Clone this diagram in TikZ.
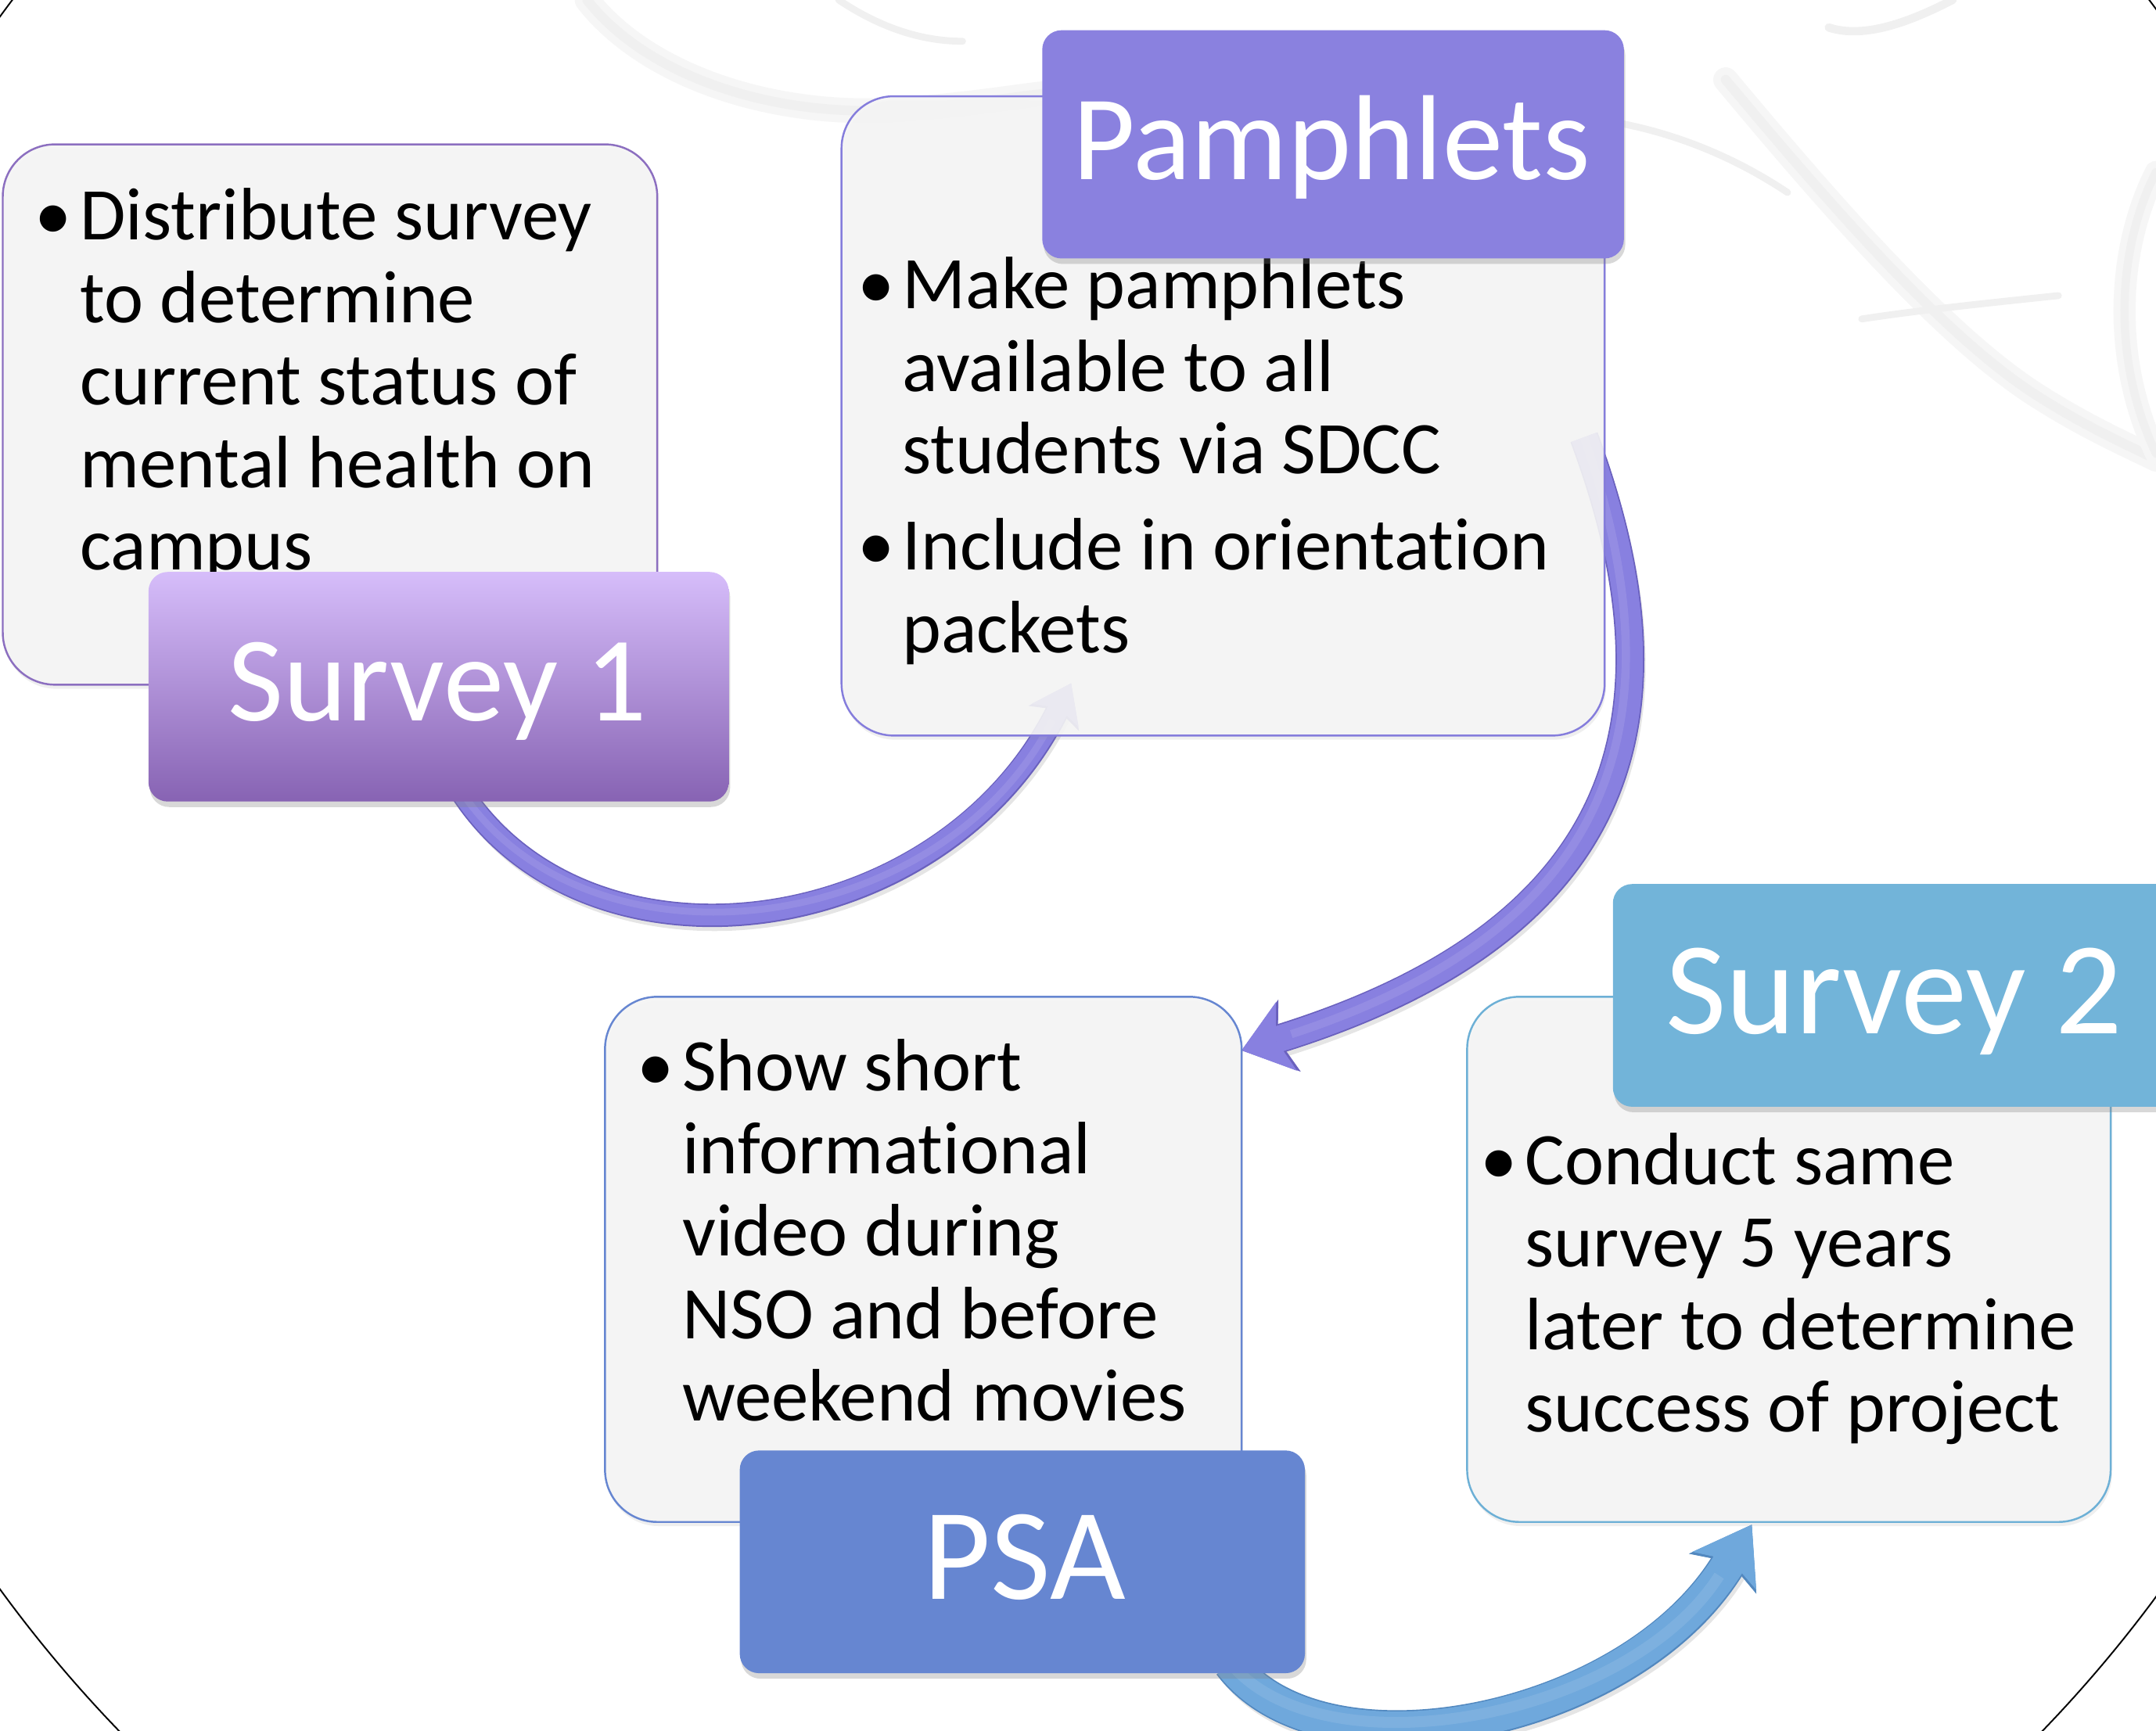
\documentclass[tikz,border=0pt]{standalone}
\usepackage{fontspec}
\setmainfont{Carlito}[Ligatures={NoCommon,NoRequired,NoContextual,NoRare}]
\usetikzlibrary{arrows.meta,shadows,calc}
\definecolor{boxfill}{HTML}{F5F5F5}
\definecolor{sOneTop}{HTML}{D6BDFA}
\definecolor{sOneBot}{HTML}{8763B3}
\definecolor{sOneLine}{HTML}{8C6FC0}
\definecolor{pamC}{HTML}{8A81DF}
\definecolor{pamLine}{HTML}{857DDC}
\definecolor{psaC}{HTML}{6686D1}
\definecolor{sTwoC}{HTML}{72B4D9}
\definecolor{sTwoLine}{HTML}{6DB0D6}
\definecolor{arrP}{HTML}{8880E0}
\definecolor{arrPdark}{HTML}{6A61BE}
\definecolor{arrB}{HTML}{6FA8DC}
\definecolor{arrBdark}{HTML}{5288BF}
\definecolor{bgGray}{HTML}{F0F0F0}
\definecolor{bgGrayB}{HTML}{F6F6F6}
\begin{document}
\begin{tikzpicture}[x=1pt,y=-1pt,
  tbox/.style={draw=#1, line width=1.4pt, fill=boxfill, fill opacity=0.9, draw opacity=1,
    rounded corners=38pt, inner sep=0pt,
    drop shadow={shadow xshift=1pt, shadow yshift=-3pt, opacity=0.12}},
  lbox/.style={fill=#1, rounded corners=14pt, inner sep=0pt,
    drop shadow={shadow xshift=1pt, shadow yshift=-4pt, opacity=0.3}},
  btxt/.style={anchor=base west, inner sep=0pt, text=black, font=\fontsize{54}{60}\selectfont},
  bul/.style={anchor=base, inner sep=0pt, text=black, font=\fontsize{54}{60}\selectfont},
  ltxt/.style={anchor=base, inner sep=0pt, text=white, font=\fontsize{#1}{#1}\selectfont},
  bgline/.style={draw=bgGray, line width=#1, line cap=round},
  bgsoft/.style={draw=bgGrayB, line width=#1, line cap=round}
]
\useasboundingbox (0,0) rectangle (1568,1259);
\begin{scope}
\clip (0,0) rectangle (1568,1259);
\fill[white] (0,0) rectangle (1568,1259);
% faint background picture
\draw[bgsoft=18pt] (427,0) .. controls (470,55) and (560,85) .. (650,80) .. controls (700,77) and (740,70) .. (760,68);
\draw[bgline=7pt] (427,0) .. controls (470,55) and (560,85) .. (650,80) .. controls (700,77) and (740,70) .. (760,68);
\draw[bgline=5pt] (610,0) .. controls (640,20) and (670,30) .. (700,30);
\draw[bgsoft=18pt] (1255,58) .. controls (1340,160) and (1420,250) .. (1485,290) .. controls (1520,312) and (1550,325) .. (1568,334);
\draw[bgline=7pt] (1255,58) .. controls (1340,160) and (1420,250) .. (1485,290) .. controls (1520,312) and (1550,325) .. (1568,334);
\draw[bgline=6pt] (1330,20) .. controls (1360,30) and (1400,10) .. (1420,0);
\draw[bgline=5pt] (1354,232) .. controls (1400,225) and (1450,220) .. (1497,215);
\draw[bgsoft=16pt] (1568,125) .. controls (1540,180) and (1535,260) .. (1568,330);
\draw[bgline=6pt] (1568,125) .. controls (1540,180) and (1535,260) .. (1568,330);
\draw[bgline=5pt] (1180,90) .. controls (1230,100) and (1270,120) .. (1300,140);
% big outline
\draw[black, line width=1.1pt] (786,584) circle[radius=972];
% arrow coordinates
\coordinate (a1s) at (335,575);
\coordinate (a1e) at (779,497);
\coordinate (a2s) at (1152,318);
\coordinate (a2e) at (903,764);
\coordinate (a3s) at (895,1210);
\coordinate (a3e) at (1274,1109);
% arrow 1
\draw[line width=15pt, draw=black, draw opacity=0.10, shorten >=20pt] ($(a1s)+(2,4)$) .. controls (430,723) and (687,690) .. ($(a1e)+(2,4)$);
\draw[line width=17pt, draw=arrPdark, -{Stealth[length=28.5pt,width=41pt,inset=7pt,line width=0.5pt]}] (a1s) .. controls (428,719) and (685,686) .. (a1e);
\draw[line width=15pt, draw=arrP, -{Stealth[length=26pt,width=38pt,inset=6pt,line width=0.5pt]}] (a1s) .. controls (428,719) and (685,686) .. (a1e);
\draw[line width=5pt, draw=white, draw opacity=0.10, shorten >=30pt] (a1s) .. controls (428,715) and (685,682) .. (a1e);
% arrow 2
\draw[line width=19pt, draw=black, draw opacity=0.10, shorten >=25pt] ($(a2s)+(2,4)$) .. controls (1234.5,538) and (1173,685) .. ($(a2e)+(2,4)$);
\draw[line width=21pt, draw=arrPdark, -{Stealth[length=36.5pt,width=55pt,inset=9pt,line width=0.5pt]}] (a2s) .. controls (1232.5,534) and (1171,681) .. (a2e);
\draw[line width=19pt, draw=arrP, -{Stealth[length=34pt,width=52pt,inset=8pt,line width=0.5pt]}] (a2s) .. controls (1232.5,534) and (1171,681) .. (a2e);
\draw[line width=6pt, draw=white, draw opacity=0.10, shorten >=38pt] (a2s) .. controls (1227,534) and (1166,678) .. (a2e);
% arrow 3
\draw[line width=24pt, draw=black, draw opacity=0.10, shorten >=30pt] ($(a3s)+(2,4)$) .. controls (963,1302) and (1188.6,1260) .. ($(a3e)+(2,4)$);
\draw[line width=26pt, draw=arrBdark, -{Stealth[length=41.5pt,width=57pt,inset=10pt,line width=0.5pt]}] (a3s) .. controls (961,1298) and (1186.6,1256) .. (a3e);
\draw[line width=24pt, draw=arrB, -{Stealth[length=39pt,width=54pt,inset=9pt,line width=0.5pt]}] (a3s) .. controls (961,1298) and (1186.6,1256) .. (a3e);
\draw[line width=8pt, draw=white, draw opacity=0.10, shorten >=44pt] (a3s) .. controls (963,1291) and (1184,1250) .. (a3e);
% text boxes
\node[tbox=sOneLine, minimum width=476pt, minimum height=393pt] (t1) at (240,301.5) {};
\node[tbox=pamLine, minimum width=555pt, minimum height=465pt] (t2) at (889.5,302.5) {};
\node[tbox=psaC, minimum width=463pt, minimum height=382pt] (t3) at (671.5,916) {};
\node[tbox=sTwoLine, minimum width=468pt, minimum height=382pt] (t4) at (1301,916) {};
% text of box 1
\node[bul] (t1b) at (39,174.5) {•};
\node[btxt] (t1l1) at (58,174.5) {Distribute survey};
\node[btxt] (t1l2) at (58,234.5) {to determine};
\node[btxt] (t1l3) at (58,294.5) {current status of};
\node[btxt] (t1l4) at (58,354.5) {mental health on};
\node[btxt] (t1l5) at (58,414.5) {campus};
% text of box 2
\node[bul] (t2b1) at (637,224.5) {•};
\node[btxt] (t2l1) at (656,224.5) {Make pamphlets};
\node[btxt] (t2l2) at (656,284.5) {available to all};
\node[btxt] (t2l3) at (656,344.5) {students via SDCC};
\node[bul] (t2b2) at (637,414.5) {•};
\node[btxt] (t2l4) at (656,414.5) {Include in orientat\kern0pt ion};
\node[btxt] (t2l5) at (656,474.5) {packets};
% text of box 3
\node[bul] (t3b) at (477,793.5) {•};
\node[btxt] (t3l1) at (496,793.5) {Show short};
\node[btxt] (t3l2) at (496,853.5) {informat\kern0pt ional};
\node[btxt] (t3l3) at (496,913.5) {video during};
\node[btxt] (t3l4) at (496,973.5) {NSO and before};
\node[btxt] (t3l5) at (496,1033.5) {weekend movies};
% text of box 4
\node[bul] (t4b) at (1090,861.5) {•};
\node[btxt] (t4l1) at (1109,861.5) {Conduct same};
\node[btxt] (t4l2) at (1109,921.5) {survey 5 years};
\node[btxt] (t4l3) at (1109,981.5) {later to determine};
\node[btxt] (t4l4) at (1109,1041.5) {success of project};
% labels
\node[rounded corners=14pt, inner sep=0pt, top color=sOneTop, bottom color=sOneBot,
  drop shadow={shadow xshift=1pt, shadow yshift=-4pt, opacity=0.3},
  minimum width=422pt, minimum height=167pt] (l1) at (319,499.5) {};
\node[ltxt=88] (l1t) at (318,524) {Survey 1};
\node[lbox=pamC, minimum width=423pt, minimum height=166pt] (l2) at (969.5,105) {};
\node[ltxt=88] (l2t) at (968.5,130.5) {Pamphlets};
\node[lbox=psaC, minimum width=411pt, minimum height=162pt] (l3) at (743.5,1136) {};
\node[ltxt=95] (l3t) at (745,1163) {PSA};
\node[lbox=sTwoC, minimum width=409pt, minimum height=162pt] (l4) at (1377.5,724) {};
\node[ltxt=96] (l4t) at (1377.5,752) {Survey 2};
\end{scope}
\end{tikzpicture}
\end{document}
